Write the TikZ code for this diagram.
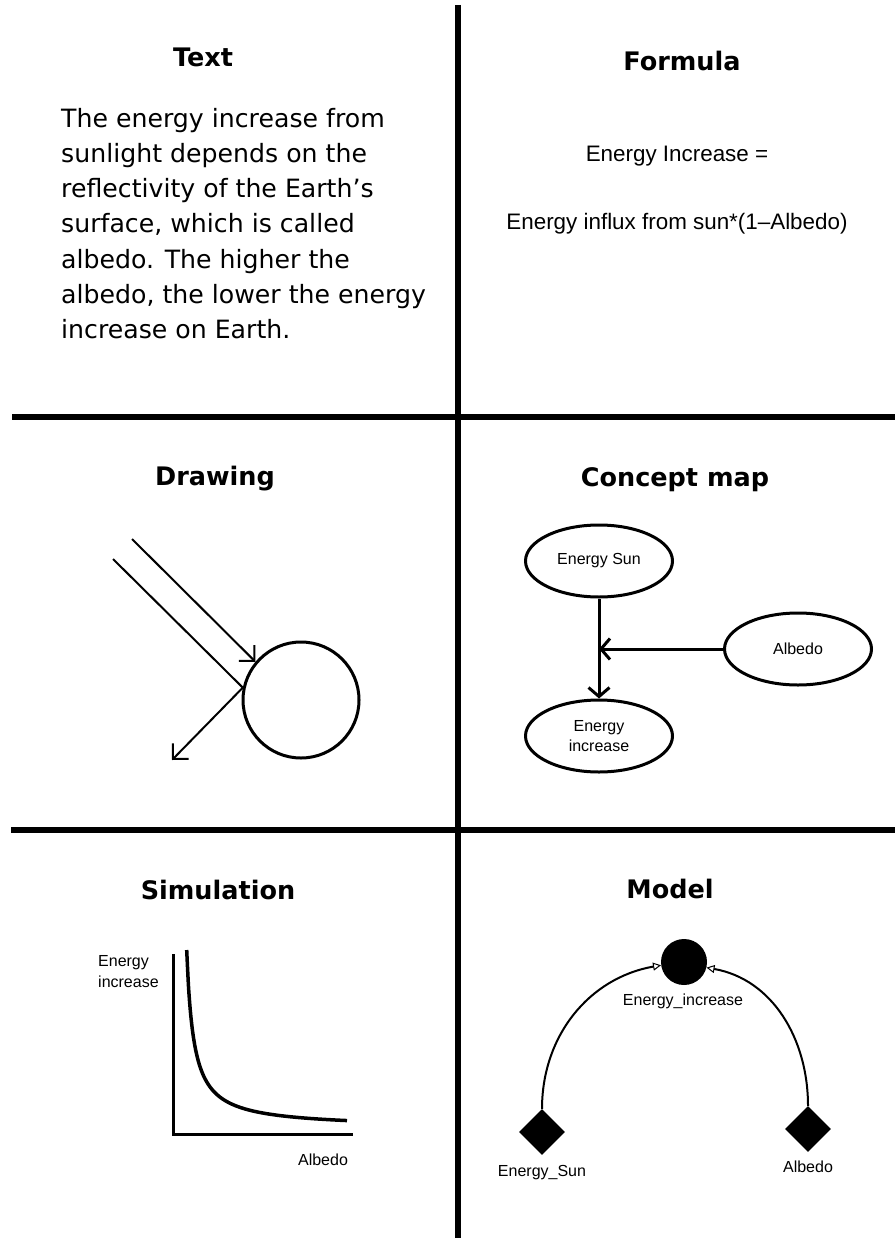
\documentclass[tikz,border=0pt]{standalone}
\usepackage{fontspec}
\usetikzlibrary{arrows.meta,shapes.geometric,positioning}
\newfontfamily\verd{DejaVu Sans}
\newfontfamily\arial{Liberation Sans}

\begin{document}
\begin{tikzpicture}[
        x=1pt, y=-1pt,
        divider/.style={line width=5.5pt},
        title/.style={font=\verd\bfseries\fontsize{25.5}{30}\selectfont, anchor=base, inner sep=0},
        body/.style={font=\verd\fontsize{25.2}{35.2}\selectfont, align=left, inner sep=0},
        formula/.style={font=\arial\fontsize{22.4}{27}\selectfont, anchor=base, inner sep=0},
        lbl/.style={font=\arial\fontsize{16}{21}\selectfont, inner sep=0},
        ray/.style={line width=2pt, -{Straight Barb[length=11pt, width=22pt]}},
        bubble/.style={ellipse, draw, line width=3pt, minimum width=147pt, minimum height=72pt, inner sep=0, lbl},
        link/.style={line width=3pt, -{Straight Barb[length=9pt, width=21pt]}},
        flow/.style={line width=2pt, -{Triangle[open, length=8pt, width=8pt, line width=1pt]}},
        stock/.style={diamond, fill=black, minimum size=46pt, inner sep=0},
        axis/.style={line width=3pt}
    ]
        \fill[white] (0,0) rectangle (895,1238);
        \useasboundingbox (0,0) rectangle (895,1238);

        % --- Dividers ---
        \coordinate (vtop) at (458,5);
        \coordinate (vbot) at (458,1238);
        \coordinate (h1l) at (12,417);
        \coordinate (h1r) at (895,417);
        \coordinate (h2l) at (11,830);
        \coordinate (h2r) at (895,830);
        \draw[divider] (vtop) -- (vbot);
        \draw[divider] (h1l) -- (h1r);
        \draw[divider] (h2l) -- (h2r);

        % 1. Text
        \node[title] (ttext) at (203,67) {Text};
        \node[body, anchor=north west] (txt) at (61,108) {
            The energy increase from\\
            sunlight depends on the\\
            reflectivity of the Earth’s\\
            surface, which is called\\
            albedo. The higher the\\
            albedo, the lower the energy\\
            increase on Earth.};

        % 2. Formula
        \node[title] (tformula) at (682,71) {Formula};
        \node[formula] (fleft) at (677,162) {Energy Increase =};
        \node[formula] (fright) at (677,230) {Energy influx from sun*(1–Albedo)};

        % 3. Drawing
        \node[title] (tdrawing) at (215,485) {Drawing};
        \node[circle, draw, line width=3pt, minimum size=116pt, inner sep=0] (earth) at (301,700) {};
        \coordinate (rayA) at (132,539);
        \coordinate (rayB) at (113,559);
        \coordinate (rayOut) at (172,760);
        \draw[ray] (rayA) -- (earth.140);
        \draw[line width=2pt] (rayB) -- (earth.168);
        \draw[ray] (earth.168) -- (rayOut);

        % 4. Concept map
        \node[title] (tconcept) at (675,486) {Concept map};
        \node[bubble] (csun) at (599,561) {Energy Sun};
        \node[bubble] (calbedo) at (798,649) {Albedo};
        \node[bubble, align=center, font=\arial\fontsize{16}{20}\selectfont] (cinc) at (599,736) {Energy\\increase};
        \draw[link] (csun.south) -- (cinc.north);
        \draw[link] (calbedo.west) -- (calbedo.west -| csun.south);

        % 5. Simulation
        \node[title] (tsim) at (218,899) {Simulation};
        \coordinate (ytop) at (173,954);
        \coordinate (orig) at (173,1134);
        \coordinate (xend) at (353,1134);
        \draw[axis] (ytop) -- (orig) -- (xend);
        \draw[line width=3.5pt, line join=round] plot[domain=186.7:347, samples=90, smooth] (\x, {1128-1246/(\x-179.7)});
        \node[lbl, align=left, anchor=north west] (ylab) at (98,955) {Energy\\increase};
        \node[lbl, anchor=base] (xlab) at (323,1165) {Albedo};

        % 6. Model
        \node[title] (tmodel) at (670,898) {Model};
        \node[circle, fill=black, minimum size=46pt, inner sep=0] (minc) at (684,962) {};
        \node[lbl, anchor=base] (minclab) at (683,1005) {Energy\_increase};
        \node[stock] (msun) at (542,1132) {};
        \node[stock] (malbedo) at (808,1129) {};
        \node[lbl, anchor=base] (msunlab) at (542,1176) {Energy\_Sun};
        \node[lbl, anchor=base] (malbedolab) at (808,1172) {Albedo};
        \draw[flow] (msun.north) to[out=90, in=190] (minc.188);
        \draw[flow] (malbedo.north) to[out=90, in=-10] (minc.-14);

\end{tikzpicture}
\end{document}
